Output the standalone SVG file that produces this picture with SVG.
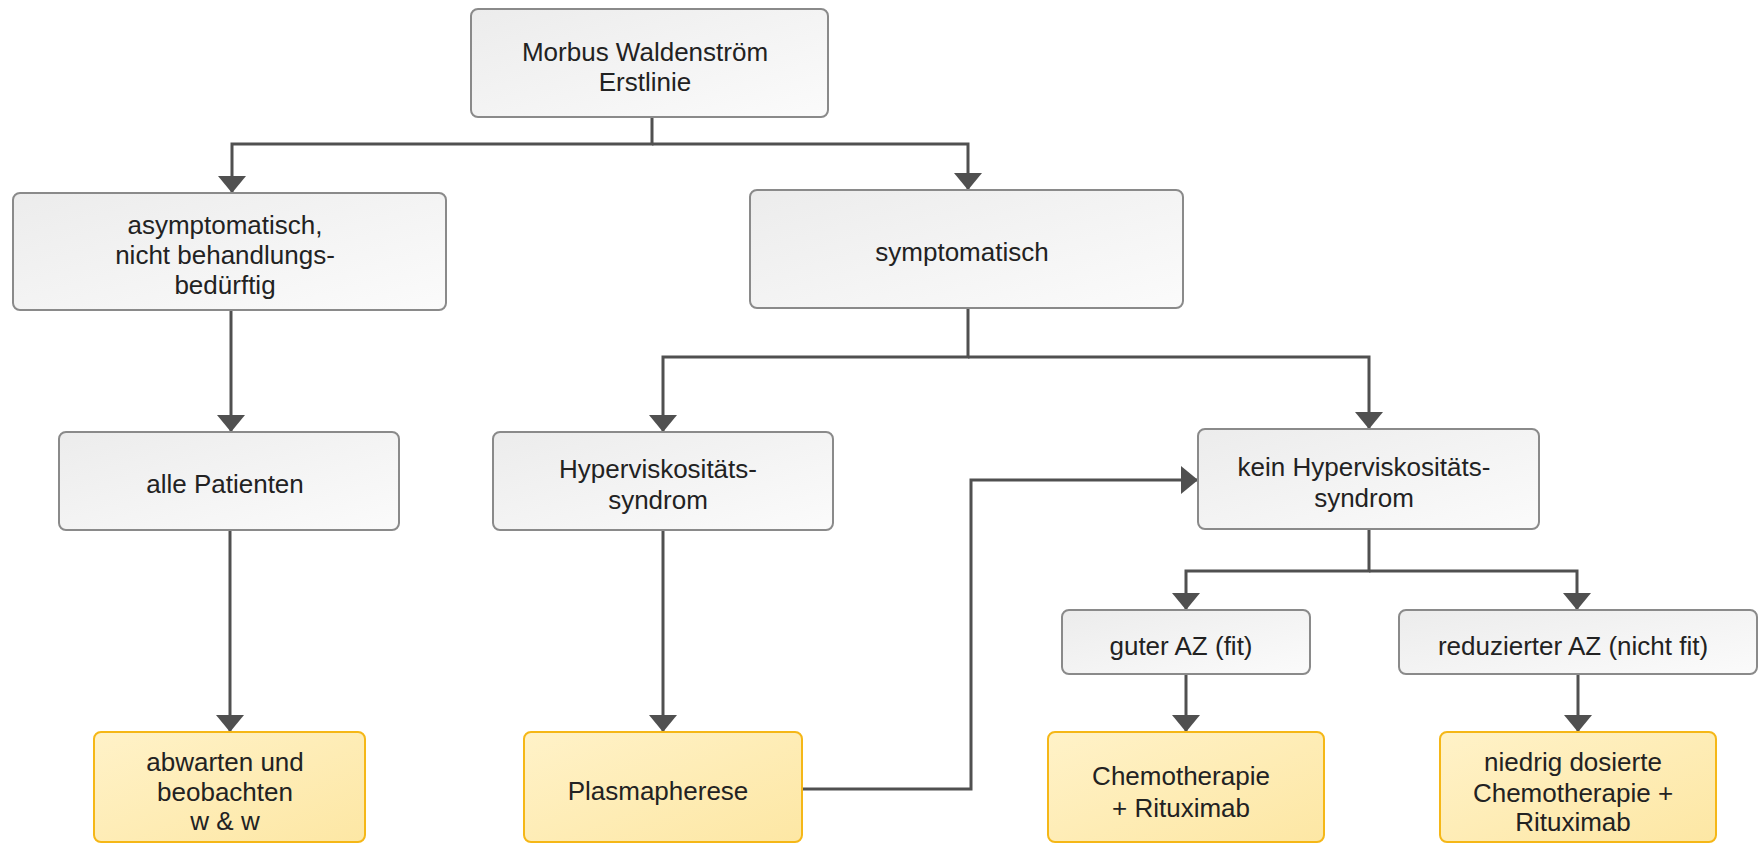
<svg xmlns="http://www.w3.org/2000/svg" width="1763" height="844" viewBox="0 0 1763 844">
  <style>
    .box { fill: url(#greyFill); stroke: #8a8a8a; stroke-width: 2; }
    .out { fill: url(#yellowFill); stroke: #f5b717; stroke-width: 2; }
    .lbl { font-family: "Liberation Sans", Arial, sans-serif; font-size: 26px; fill: #222; text-anchor: middle; }
    .conn { fill: none; stroke: #505050; stroke-width: 3; }
  </style>
  <defs>
    <linearGradient id="greyFill" x1="0" y1="0" x2="1" y2="1">
      <stop offset="0" stop-color="#ececec"/>
      <stop offset="1" stop-color="#fbfbfb"/>
    </linearGradient>
    <linearGradient id="yellowFill" x1="0" y1="0" x2="1" y2="1">
      <stop offset="0" stop-color="#fff2c8"/>
      <stop offset="1" stop-color="#fde7a4"/>
    </linearGradient>
    <marker id="arrow" markerUnits="userSpaceOnUse" markerWidth="18" markerHeight="28" refX="17" refY="14" orient="auto">
      <path d="M0,0 L17,14 L0,28 Z" fill="#505050"/>
    </marker>
  </defs>

  <rect width="1763" height="844" fill="#ffffff"/>

  <!-- connectors -->
  <g id="connectors">
    <path class="conn" d="M652,117 V144 H232 V193" marker-end="url(#arrow)"/>
    <path class="conn" d="M652,144 H968 V190" marker-end="url(#arrow)"/>
    <path class="conn" d="M231,310 V432" marker-end="url(#arrow)"/>
    <path class="conn" d="M230,530 V732" marker-end="url(#arrow)"/>
    <path class="conn" d="M968,308 V357 H663 V432" marker-end="url(#arrow)"/>
    <path class="conn" d="M968,357 H1369 V429" marker-end="url(#arrow)"/>
    <path class="conn" d="M663,530 V732" marker-end="url(#arrow)"/>
    <path class="conn" d="M802,789 H971 V480 H1198" marker-end="url(#arrow)"/>
    <path class="conn" d="M1369,529 V571 H1186 V610" marker-end="url(#arrow)"/>
    <path class="conn" d="M1369,571 H1577 V610" marker-end="url(#arrow)"/>
    <path class="conn" d="M1186,674 V732" marker-end="url(#arrow)"/>
    <path class="conn" d="M1578,674 V732" marker-end="url(#arrow)"/>
  </g>

  <!-- nodes -->
  <g id="n-start">
    <rect class="box" x="471" y="9" width="357" height="108" rx="7"/>
    <text class="lbl" x="645" y="61">Morbus Waldenström</text>
    <text class="lbl" x="645" y="91">Erstlinie</text>
  </g>
  <g id="n-asym">
    <rect class="box" x="13" y="193" width="433" height="117" rx="7"/>
    <text class="lbl" x="225" y="234">asymptomatisch,</text>
    <text class="lbl" x="225" y="264">nicht behandlungs-</text>
    <text class="lbl" x="225" y="294">bedürftig</text>
  </g>
  <g id="n-sym">
    <rect class="box" x="750" y="190" width="433" height="118" rx="7"/>
    <text class="lbl" x="962" y="261">symptomatisch</text>
  </g>
  <g id="n-alle">
    <rect class="box" x="59" y="432" width="340" height="98" rx="7"/>
    <text class="lbl" x="225" y="493">alle Patienten</text>
  </g>
  <g id="n-hyper">
    <rect class="box" x="493" y="432" width="340" height="98" rx="7"/>
    <text class="lbl" x="658" y="478">Hyperviskositäts-</text>
    <text class="lbl" x="658" y="509">syndrom</text>
  </g>
  <g id="n-kein">
    <rect class="box" x="1198" y="429" width="341" height="100" rx="7"/>
    <text class="lbl" x="1364" y="476">kein Hyperviskositäts-</text>
    <text class="lbl" x="1364" y="507">syndrom</text>
  </g>
  <g id="n-fit">
    <rect class="box" x="1062" y="610" width="248" height="64" rx="7"/>
    <text class="lbl" x="1181" y="655">guter AZ (fit)</text>
  </g>
  <g id="n-unfit">
    <rect class="box" x="1399" y="610" width="358" height="64" rx="7"/>
    <text class="lbl" x="1573" y="655">reduzierter AZ (nicht fit)</text>
  </g>
  <g id="n-watch">
    <rect class="out" x="94" y="732" width="271" height="110" rx="7"/>
    <text class="lbl" x="225" y="771">abwarten und</text>
    <text class="lbl" x="225" y="801">beobachten</text>
    <text class="lbl" x="225" y="830">w &amp; w</text>
  </g>
  <g id="n-plasma">
    <rect class="out" x="524" y="732" width="278" height="110" rx="7"/>
    <text class="lbl" x="658" y="800">Plasmapherese</text>
  </g>
  <g id="n-chemo">
    <rect class="out" x="1048" y="732" width="276" height="110" rx="7"/>
    <text class="lbl" x="1181" y="785">Chemotherapie</text>
    <text class="lbl" x="1181" y="817">+ Rituximab</text>
  </g>
  <g id="n-lowdose">
    <rect class="out" x="1440" y="732" width="276" height="110" rx="7"/>
    <text class="lbl" x="1573" y="771">niedrig dosierte</text>
    <text class="lbl" x="1573" y="802">Chemotherapie +</text>
    <text class="lbl" x="1573" y="831">Rituximab</text>
  </g>
</svg>
